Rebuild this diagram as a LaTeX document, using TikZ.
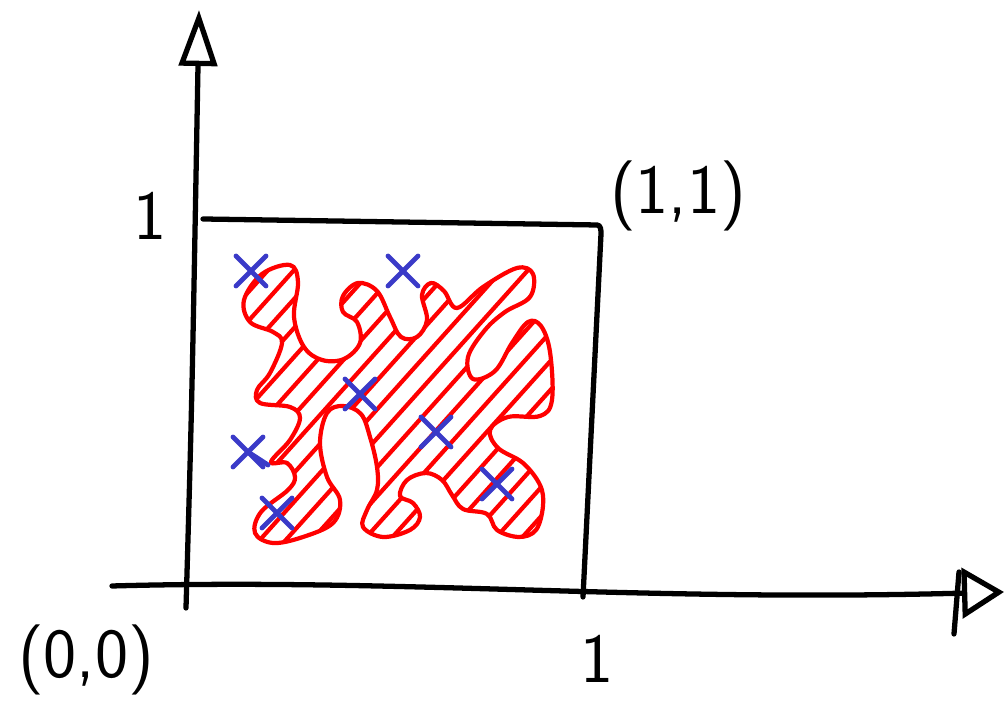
\documentclass[tikz,border=0pt]{standalone}
\usepackage{tikz}
\usetikzlibrary{arrows.meta,shapes.misc}
\definecolor{penblue}{RGB}{58,58,200}
\tikzset{
  pen/.style={line width=1.5pt, line cap=round, line join=round},
  >=Stealth,
}

\begin{document}
\begin{tikzpicture}[x=0.01cm,y=-0.01cm,
  redpen/.style={pen, red, line width=1.2pt},
  xmark/.style={cross out, draw=penblue, line width=1.4pt, line cap=round, minimum size=0.25cm, inner sep=0pt},
  lbl/.style={font=\sffamily\fontsize{20}{22}\selectfont, inner sep=0pt}
]
\useasboundingbox (0,0) rectangle (1005,701);

% axes
\coordinate (ylow) at (186,608);
\coordinate (ytop) at (199,10);
\coordinate (xlow) at (112,586);
\coordinate (xtop) at (1004,592);
\draw[pen, -{Triangle[open,length=5.6mm,width=3.8mm]}] (ylow) .. controls (192,400) .. (ytop);
\draw[pen, -{Triangle[open,length=4.2mm,width=5mm]}] (xlow) .. controls (400,578) and (640,602) .. (xtop);
\draw[pen] (959,572) -- (954,634);

% unit square
\coordinate (tl) at (203,219);
\coordinate (tr) at (597,225);
\coordinate (br) at (583,597);
\draw[pen] (tl) -- (tr) to[out=0,in=90] (601,234) -- (br);

% labels
\node[lbl] (zero) at (86,660) {(0,0)};
\node[lbl] (one) at (678,196) {(1,1)};
\node[lbl] (ytick) at (150,216) {1};
\node[lbl] (xtick) at (597,659) {1};

% red region with hatching
\def\blob{plot[smooth cycle, tension=0.6] coordinates {
  (290,265) (298,282) (294,317) (304,347) (322,360) (344,359) (360,343) (357,322)
  (343,312) (343,296) (358,283) (377,291) (390,317) (401,337) (417,337) (427,320)
  (422,295) (431,283) (444,291) (457,308) (483,287) (517,268) (533,274) (530,297)
  (505,312) (485,330) (468,357) (473,379) (495,371) (512,343) (528,322) (541,326)
  (550,352) (552,400) (540,416) (508,417) (490,430) (498,448) (523,463) (540,485)
  (543,506) (536,530) (519,537) (497,530) (487,514) (463,509) (452,495) (442,480)
  (426,473) (407,480) (400,496) (413,503) (420,517) (410,530) (383,537) (363,527)
  (367,510) (377,490) (377,467) (370,437) (361,414) (343,406) (327,413) (320,443)
  (327,477) (340,500) (333,523) (303,537) (273,543) (255,533) (261,512) (288,490)
  (295,477) (287,463) (271,462) (290,440) (300,418) (290,407) (260,403) (257,390)
  (270,373) (282,343) (273,332) (250,322) (244,300) (262,274)}}
\begin{scope}
  \clip \blob;
  \foreach \k in {-100,-74,...,520}
    \draw[redpen] (\k+20,600) -- (\k+370,210);
\end{scope}
\draw[redpen] \blob;

% sample points
\node[xmark] (p1) at (251,271) {};
\node[xmark] (p2) at (403,271) {};
\node[xmark] (p3) at (360,394) {};
\node[xmark] (p4) at (436,432) {};
\node[xmark] (p5) at (248,452) {};
\node[xmark] (p6) at (277,513) {};
\node[xmark] (p7) at (497,484) {};
\coordinate (tail) at (268,465);
\draw[penblue, line width=1.4pt, line cap=round] (p5.center) -- (tail);
\end{tikzpicture}
\end{document}
